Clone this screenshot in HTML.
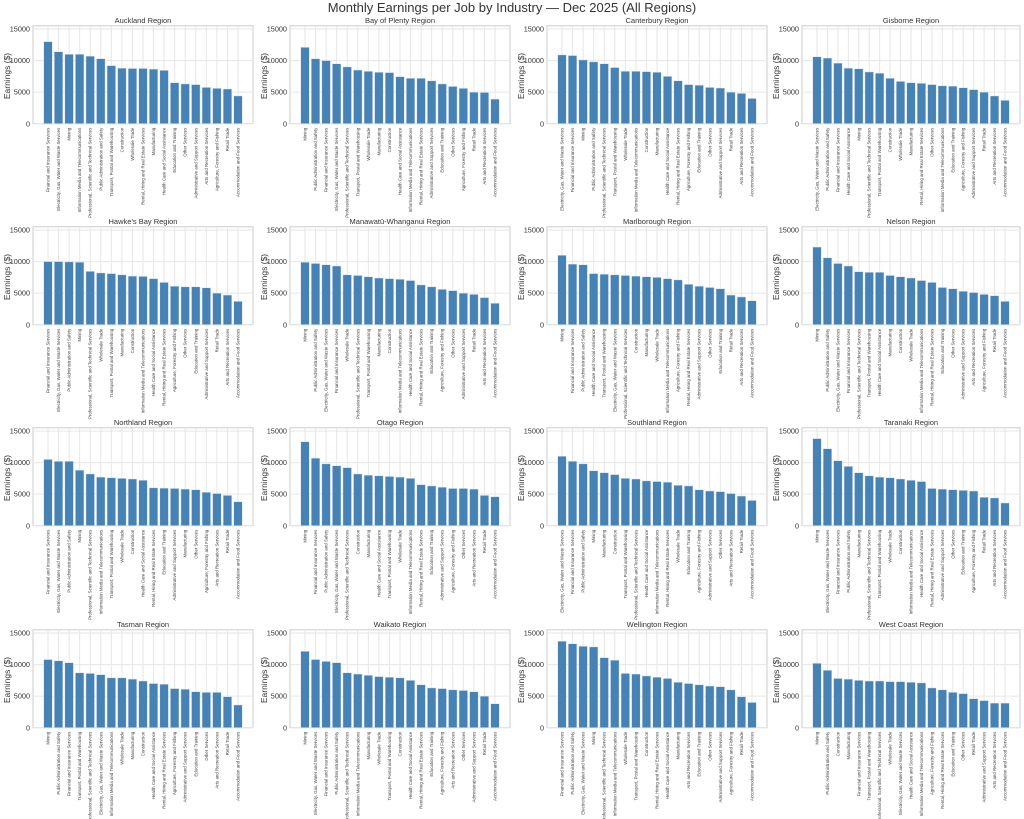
<!DOCTYPE html>
<html><head><meta charset="utf-8"><style>
html,body{margin:0;padding:0;background:#fff;}
svg{display:block;font-family:"Liberation Sans",sans-serif;}
</style></head><body>
<svg id="s" width="1024" height="819" viewBox="0 0 1024 819" xmlns="http://www.w3.org/2000/svg">
<rect width="1024" height="819" fill="#fff"/>
<text x="512" y="12" text-anchor="middle" font-size="13" fill="#333">Monthly Earnings per Job by Industry — Dec 2025 (All Regions)</text>
</svg>
<script>
const N={A:"Accommodation and Food Services",B:"Administrative and Support Services",C:"Agriculture, Forestry and Fishing",D:"Arts and Recreation Services",E:"Construction",F:"Education and Training",G:"Electricity, Gas, Water and Waste Services",H:"Financial and Insurance Services",I:"Health Care and Social Assistance",J:"Information Media and Telecommunications",K:"Manufacturing",L:"Mining",M:"Other Services",N:"Professional, Scientific and Technical Services",O:"Public Administration and Safety",P:"Rental, Hiring and Real Estate Services",Q:"Retail Trade",R:"Transport, Postal and Warehousing",S:"Wholesale Trade"};
const D=[
["Auckland Region","HGLJNORESPKIFMBDCQA",[13000,11400,11000,11000,10700,10300,9200,8800,8750,8750,8650,8450,6500,6300,6200,5750,5600,5500,4400]],
["Bay of Plenty Region","LOHGNRSKEIJPBFMCQDA",[12100,10300,10000,9500,9000,8500,8300,8150,8100,7450,7200,7200,6800,6300,5900,5600,5000,4950,3900]],
["Canterbury Region","GHLONRSJEKIPCFMBQDA",[10900,10800,10100,9800,9500,8900,8300,8300,8250,8150,7500,6800,6200,6100,5750,5650,5000,4800,4000]],
["Gisborne Region","GOHILNRESKPMJFCBQDA",[10600,10400,9600,8800,8700,8200,8000,7200,6700,6500,6400,6200,6000,5950,5700,5400,5000,4400,3700]],
["Hawke's Bay Region","HGOLNSRKEJIPCMFBQDA",[10000,10000,9950,9900,8450,8200,8100,7900,7700,7650,7300,6700,6100,6000,6000,5850,5000,4700,3700]],
["Manawatū-Whanganui Region","LOGHSNRKEJIPFCMBQDA",[9900,9700,9500,9300,7900,7800,7600,7400,7300,7200,7000,6300,6000,5600,5400,5000,4800,4300,3400]],
["Marlborough Region","LHOIRGNEKSJCPBMFQDA",[11000,9600,9500,8100,8000,7900,7800,7700,7600,7500,7300,7100,6400,6100,5900,5700,4700,4400,3800]],
["Nelson Region","LOGHNRIKESJPFMBDCQA",[12300,10600,9700,9300,8400,8300,8300,7800,7600,7400,7000,6700,5900,5700,5300,5100,4800,4600,3700]],
["Northland Region","HGOLNJRSEIPFBKMCDQA",[10500,10200,10200,8800,8200,7700,7600,7500,7400,7200,6000,5950,5900,5800,5700,5300,5100,4800,3800]],
["Otago Region","LHOGNEKIRSJPFBCMDQA",[13300,10700,9800,9500,9200,8200,8000,7900,7800,7700,7500,6500,6300,6100,5900,5900,5800,4800,4600]],
["Southland Region","GHOLKERNIJPSFCBMDQA",[11000,10200,9800,8700,8400,8100,7500,7400,7100,7000,6900,6400,6300,5700,5500,5400,5100,4700,4000]],
["Taranaki Region","LGHOKNRSEJIPBMFCQDA",[13800,12200,10300,9400,8400,7900,7700,7600,7400,7200,7000,5900,5800,5700,5600,5500,4500,4400,3600]],
["Tasman Region","LOHRNGJSKEIPCBFMDQA",[10800,10600,10300,8700,8600,8400,7900,7900,7700,7400,7000,6900,6200,6100,5700,5600,5600,4900,3600]],
["Waikato Region","LGHONJKSREIPFCDMBQA",[12100,10800,10500,10300,8700,8500,8300,8100,8000,7900,7500,6800,6300,6200,6000,5900,5700,5000,3800]],
["Wellington Region","HOGLNJSREPIKDFMBCQA",[13700,13300,12900,12800,11100,10700,8600,8500,8200,8000,7800,7200,7000,6800,6600,6500,6000,4900,4000]],
["West Coast Region","LOEKHRNSGIJCPFMQBDA",[10200,9100,7800,7700,7500,7400,7400,7300,7300,7200,7100,6300,6000,5600,5400,4600,4300,3900,3900]]
];
const s=document.getElementById('s');let h='';
const lefts=[33,290,547,802],tops=[29,230,431,633];
D.forEach((d,k)=>{
 const L=lefts[k%4],T=tops[Math.floor(k/4)],W=k%4==3?218:220,Z=T+94.7,sc=94.7/15000,ft=T-3.2;
 h+=`<rect x="${L}" y="${ft}" width="${W}" height="${Z-ft}" fill="#fff" stroke="#ccc" stroke-width="1"/>`;
 for(let v=0;v<=15000;v+=5000){const y=Z-v*sc;h+=`<line x1="${L}" x2="${L+W}" y1="${y}" y2="${y}" stroke="#e6e6e6"/><text x="${L-3}" y="${y+2.6}" text-anchor="end" font-size="7.3" fill="#333">${v}</text>`;}
 const st=(W-30)/18;
 for(let i=0;i<19;i++){const cx=L+15+i*st;h+=`<line x1="${cx}" x2="${cx}" y1="${ft}" y2="${Z}" stroke="#e6e6e6"/>`;}
 for(let i=0;i<19;i++){const cx=L+15+i*st,v=d[2][i],y=Z-v*sc;
  h+=`<rect x="${cx-4.3}" y="${y}" width="8.6" height="${Z-y}" fill="#4682b4" stroke="#dde8f2" stroke-width="0.5"/>`;
  h+=`<text transform="translate(${cx+1.5},${Z+4}) rotate(-90)" text-anchor="end" font-size="4.4" fill="#444">${N[d[1][i]]}</text>`;}
 h+=`<text x="${L+W/2}" y="${T-6}" text-anchor="middle" font-size="7.5" fill="#333">${d[0]}</text>`;
 h+=`<text transform="translate(${L-23},${T+47}) rotate(-90)" text-anchor="middle" font-size="8.5" fill="#333">Earnings ($)</text>`;
});
s.insertAdjacentHTML('beforeend',h);
</script>
</body></html>
